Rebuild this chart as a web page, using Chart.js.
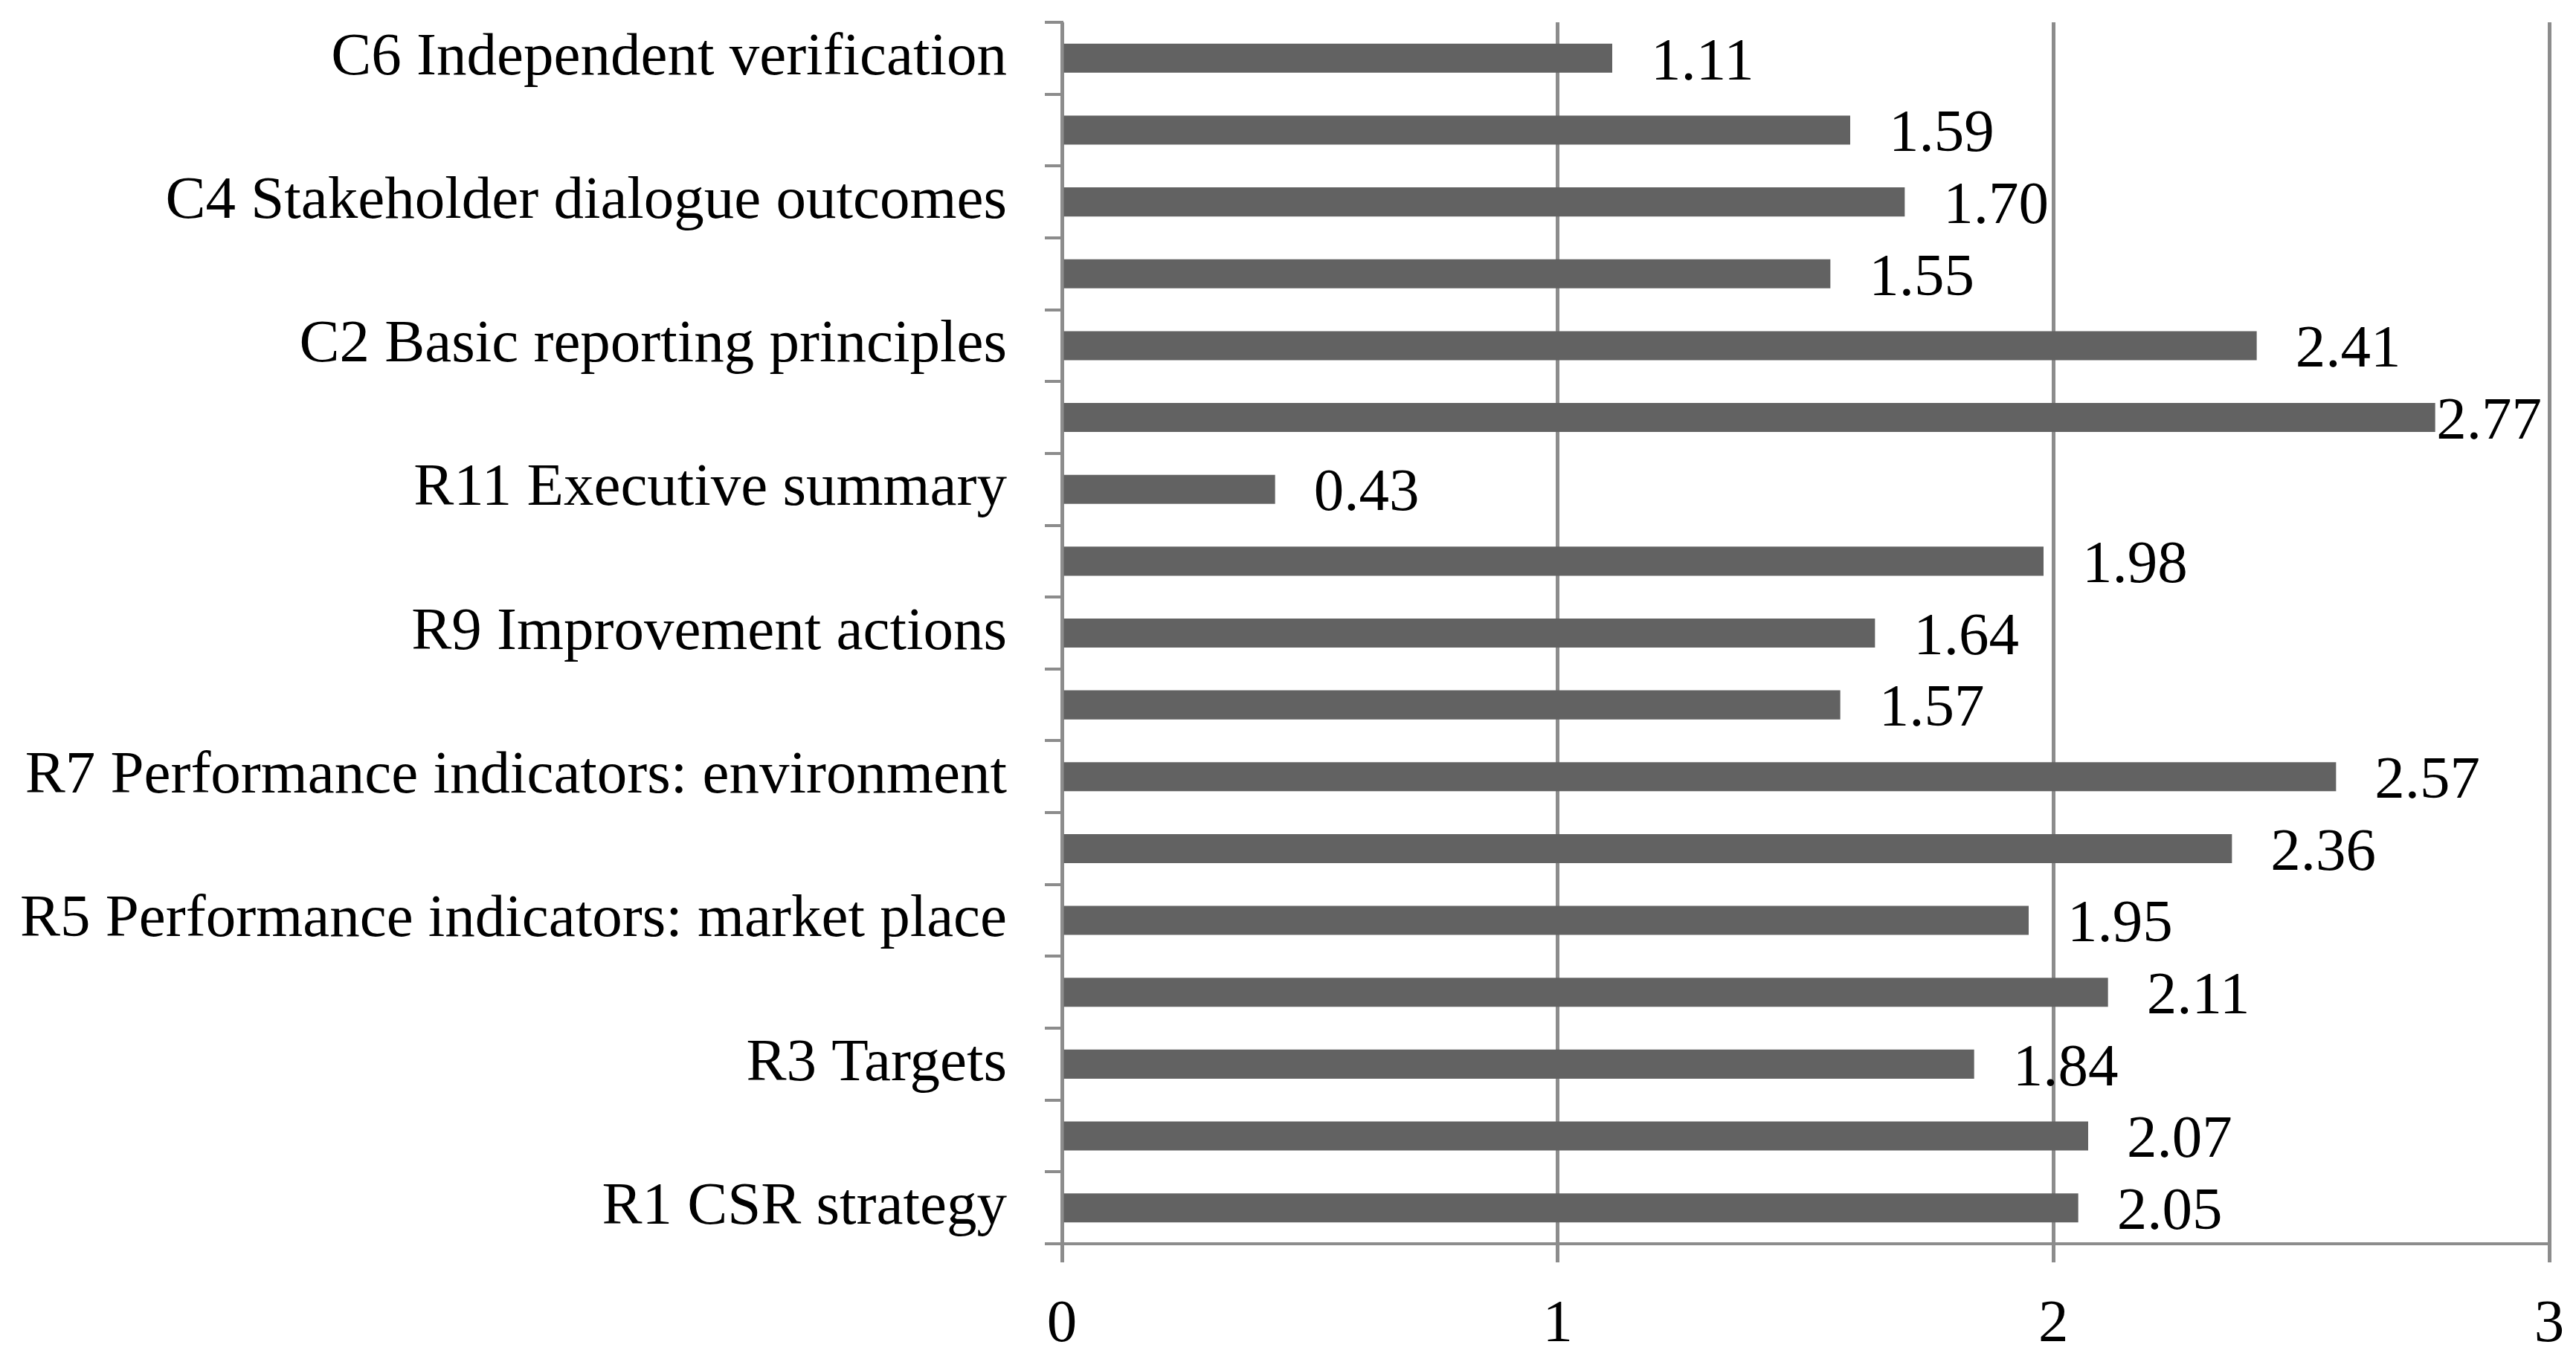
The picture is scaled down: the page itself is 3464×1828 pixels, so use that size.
<!DOCTYPE html>
<html>
<head>
<meta charset="utf-8">
<script src="https://cdn.jsdelivr.net/npm/chart.js@4.4.1/dist/chart.umd.min.js"></script>
<style>
  html, body { margin: 0; padding: 0; background: #fff; }
  #wrap { width: 3464px; height: 1828px; position: relative; }
</style>
</head>
<body>
<div id="wrap"><canvas id="chart"></canvas></div>
<script>
// criteria, bottom to top (only every other one is labelled in the figure)
const categories = [
  'R1 CSR strategy', 'R2', 'R3 Targets', 'R4',
  'R5 Performance indicators: market place', 'R6',
  'R7 Performance indicators: environment', 'R8',
  'R9 Improvement actions', 'R10', 'R11 Executive summary',
  'C1', 'C2 Basic reporting principles', 'C3',
  'C4 Stakeholder dialogue outcomes', 'C5', 'C6 Independent verification'
]
const scores = [2.05, 2.07, 1.84, 2.11, 1.95, 2.36, 2.57, 1.57, 1.64, 1.98, 0.43,
                2.77, 2.41, 1.55, 1.70, 1.59, 1.11]
const xTicks = [0, 1, 2, 3]

const FONT = "'Liberation Serif', 'Times New Roman', serif"
const FSIZE = 81
const GREY = '#8c8c8c'

// value labels just past the end of each bar, kept inside the plot
const barLabels = {
  id: 'barLabels',
  afterDatasetsDraw(chart) {
    const ctx = chart.ctx
    const area = chart.chartArea
    const meta = chart.getDatasetMeta(0)
    ctx.save()
    ctx.font = FSIZE + 'px ' + FONT
    ctx.fillStyle = '#000'
    ctx.textAlign = 'left'
    ctx.textBaseline = 'middle'
    meta.data.forEach((bar, i) => {
      const txt = scores[i].toFixed(2)
      const w = ctx.measureText(txt).width
      let x = bar.x + 52
      if (x + w > area.right - 10) x = area.right - 10 - w
      ctx.fillText(txt, x, bar.y + 7)
    })
    ctx.restore()
  }
}

new Chart(document.getElementById('chart'), {
  type: 'bar',
  data: {
    labels: categories,
    datasets: [{
      data: scores,
      backgroundColor: '#626262',
      borderWidth: 0,
      barPercentage: 0.404,
      categoryPercentage: 1
    }]
  },
  options: {
    indexAxis: 'y',
    responsive: true,
    maintainAspectRatio: false,
    animation: false,
    layout: { padding: { top: 30, right: 36, left: 0, bottom: 0 } },
    plugins: {
      legend: { display: false },
      tooltip: { enabled: false }
    },
    scales: {
      x: {
        min: 0,
        max: 3,
        afterBuildTicks: (scale) => { scale.ticks = xTicks.map(v => ({ value: v })) },
        afterFit: (scale) => {
          scale.height = 155
          scale.paddingLeft = 0
          scale.paddingRight = 0
        },
        grid: { color: GREY, lineWidth: 5, tickLength: 25, drawTicks: true },
        border: { color: GREY, width: 4 },
        ticks: {
          color: '#000',
          padding: 36,
          font: { family: FONT, size: FSIZE }
        }
      },
      y: {
        reverse: true,
        afterFit: (scale) => {
          scale.width = 1428
          scale.paddingTop = 0
          scale.paddingBottom = 0
        },
        grid: { color: GREY, lineWidth: 4, tickLength: 23, drawOnChartArea: false, offset: true },
        border: { color: GREY, width: 4 },
        ticks: {
          color: '#000',
          padding: 51,
          autoSkip: false,
          font: { family: FONT, size: FSIZE },
          callback: (val, i) => (i % 2 === 0 ? categories[i] : '')
        }
      }
    }
  },
  plugins: [barLabels]
})
</script>
</body>
</html>
